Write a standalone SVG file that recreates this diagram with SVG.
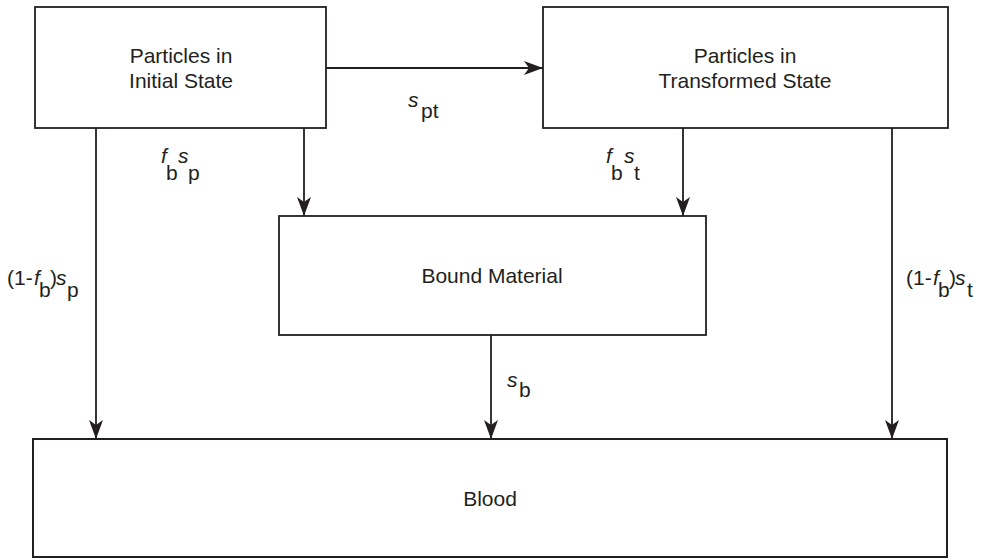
<svg xmlns="http://www.w3.org/2000/svg" width="985" height="559" viewBox="0 0 985 559">
<defs>
<style>
.box{fill:#fff;stroke:#231f20;stroke-width:1.8}
.ln{fill:none;stroke:#231f20;stroke-width:1.8}
text{font-family:"Liberation Sans",Arial,sans-serif;font-size:21px;fill:#231f20}
.c{text-anchor:middle}
.i{font-style:italic}
</style>
<marker id="ah" markerUnits="userSpaceOnUse" markerWidth="20" markerHeight="16" refX="19" refY="7" orient="auto">
<path d="M0,0 L19,7 L0,14 L5,7 z" fill="#231f20"/>
</marker>
</defs>
<rect width="985" height="559" fill="#fff"/>
<g id="initial">
<rect class="box" x="35" y="7" width="291" height="121"/>
<text class="c" x="181" y="63">Particles in</text>
<text class="c" x="181" y="88">Initial State</text>
</g>
<g id="transformed">
<rect class="box" x="543" y="7" width="405" height="121"/>
<text class="c" x="745" y="63">Particles in</text>
<text class="c" x="745" y="88">Transformed State</text>
</g>
<g id="bound">
<rect class="box" x="279" y="216" width="427" height="119"/>
<text class="c" x="492" y="283">Bound Material</text>
</g>
<g id="blood">
<rect class="box" x="33" y="439" width="914" height="118" style="stroke-width:2"/>
<text class="c" x="490" y="506">Blood</text>
</g>
<g id="connectors">
<line class="ln" x1="326" y1="68" x2="543" y2="68" marker-end="url(#ah)"/>
<line class="ln" x1="96" y1="128" x2="96" y2="439" marker-end="url(#ah)"/>
<line class="ln" x1="304" y1="128" x2="304" y2="216" marker-end="url(#ah)"/>
<line class="ln" x1="683" y1="128" x2="683" y2="216" marker-end="url(#ah)"/>
<line class="ln" x1="892" y1="128" x2="892" y2="439" marker-end="url(#ah)"/>
<line class="ln" x1="491" y1="335" x2="491" y2="439" marker-end="url(#ah)"/>
</g>
<g id="labels">
<text class="i" x="408" y="107">s</text><text x="421" y="118">pt</text>
<text class="i" x="161" y="163">f</text><text x="166" y="180">b</text><text class="i" x="178" y="163">s</text><text x="188" y="180">p</text>
<text class="i" x="606" y="163">f</text><text x="611" y="180">b</text><text class="i" x="624" y="163">s</text><text x="634" y="180">t</text>
<text x="7" y="285">(1-</text><text class="i" x="34" y="285">f</text><text x="39" y="297">b</text><text x="50" y="285">)</text><text class="i" x="56" y="285">s</text><text x="67" y="297">p</text>
<text x="906" y="285">(1-</text><text class="i" x="933" y="285">f</text><text x="938" y="297">b</text><text x="949" y="285">)</text><text class="i" x="955" y="285">s</text><text x="967" y="297">t</text>
<text class="i" x="507" y="387">s</text><text x="519" y="397">b</text>
</g>
</svg>
